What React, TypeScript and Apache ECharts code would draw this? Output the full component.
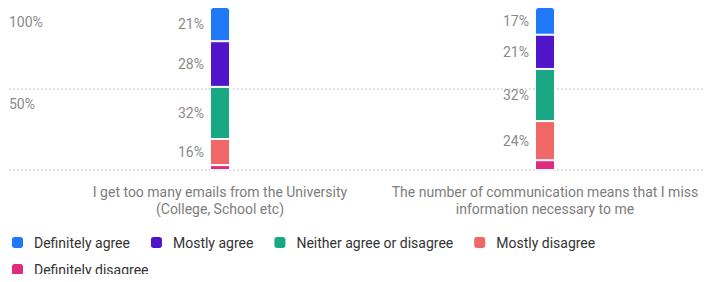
import React, { useEffect, useRef } from "react";
import * as echarts from "echarts";

const categories = [
  "I get too many emails from the University\n(College, School etc)",
  "The number of communication means that I miss\ninformation necessary to me",
];
const seriesNames = [
  "Definitely agree",
  "Mostly agree",
  "Neither agree or disagree",
  "Mostly disagree",
  "Definitely disagree",
];
const definitelyAgree = [21, 17];
const mostlyAgree = [28, 21];
const neither = [32, 32];
const mostlyDisagree = [16, 24];
const definitelyDisagree = [3, 6];
const yTicks = [0, 50, 100];

const colors: Record<string, string> = {
  "Definitely agree": "#1F78F6",
  "Mostly agree": "#5014C9",
  "Neither agree or disagree": "#1AA884",
  "Mostly disagree": "#F06767",
  "Definitely disagree": "#DF2A7E",
};

const FONT = "Roboto";

export default function App() {
  const ref = useRef<HTMLDivElement>(null);
  useEffect(() => {
    if (!ref.current) return;
    const chart = echarts.init(ref.current, undefined, { renderer: "svg" });
    const valuesByName: Record<string, number[]> = {
      "Definitely agree": definitelyAgree,
      "Mostly agree": mostlyAgree,
      "Neither agree or disagree": neither,
      "Mostly disagree": mostlyDisagree,
      "Definitely disagree": definitelyDisagree,
    };
    const stackOrder = [...seriesNames].reverse();
    const series = stackOrder.map((name, i) => ({
      name,
      type: "bar",
      stack: "total",
      xAxisIndex: 1,
      yAxisIndex: 1,
      barWidth: 20,
      data: valuesByName[name],
      itemStyle: {
        color: colors[name],
        borderColor: "#ffffff",
        borderWidth: 1,
        borderRadius: i === stackOrder.length - 1 ? [3, 3, 0, 0] : 0,
      },
      label: {
        show: true,
        position: "left",
        distance: 6,
        color: "#8a8a8a",
        fontSize: 14,
        fontFamily: FONT,
        formatter: (p: any) => (p.value >= 10 ? p.value + "%" : ""),
      },
    }));
    const legendBase = {
      left: 7,
      itemWidth: 11,
      itemHeight: 11,
      itemGap: 10,
      icon: "roundRect",
      itemStyle: { borderWidth: 0 },
      textStyle: {
        color: "#333333",
        fontSize: 14,
        lineHeight: 17,
        fontFamily: FONT,
        padding: [0, 11, 0, 6],
      },
    };
    chart.setOption({
      animation: false,
      textStyle: { fontFamily: FONT },
      grid: [
        { left: 9, right: 14, top: 7, bottom: 112, containLabel: false, outerBoundsMode: "none" },
        { left: 57.5, right: 9.5, top: 7, bottom: 112, containLabel: false, outerBoundsMode: "none" },
      ],
      xAxis: [
        { type: "category", gridIndex: 0, data: [""], show: false },
        {
          type: "category",
          gridIndex: 1,
          data: categories,
          axisLine: { show: false },
          axisTick: { show: false },
          axisLabel: {
            interval: 0,
            color: "#7d7d7d",
            fontSize: 14,
            lineHeight: 17,
            margin: 13,
            fontFamily: FONT,
          },
        },
      ],
      yAxis: [
        {
          type: "value",
          gridIndex: 0,
          min: yTicks[0],
          max: yTicks[yTicks.length - 1],
          interval: 50,
          axisLine: { show: false },
          axisTick: { show: false },
          splitLine: {
            show: true,
            lineStyle: { color: "#cccccc", width: 1.5, type: [1.5, 2.5] },
          },
          axisLabel: {
            inside: true,
            margin: 0,
            align: "left",
            verticalAlign: "top",
            padding: [8, 0, 0, 0],
            color: "#8a8a8a",
            fontSize: 14,
            fontFamily: FONT,
            formatter: (v: number) => (v === 0 ? "" : v + "%"),
          },
        },
        { type: "value", gridIndex: 1, min: 0, max: 100, show: false },
      ],
      legend: [
        { ...legendBase, data: seriesNames.slice(0, 4), top: 229 },
        { ...legendBase, data: seriesNames.slice(4), top: 256 },
      ],
      series,
    });
    return () => chart.dispose();
  }, []);
  return <div ref={ref} style={{ width: 717, height: 282, margin: -8 }} />;
}
